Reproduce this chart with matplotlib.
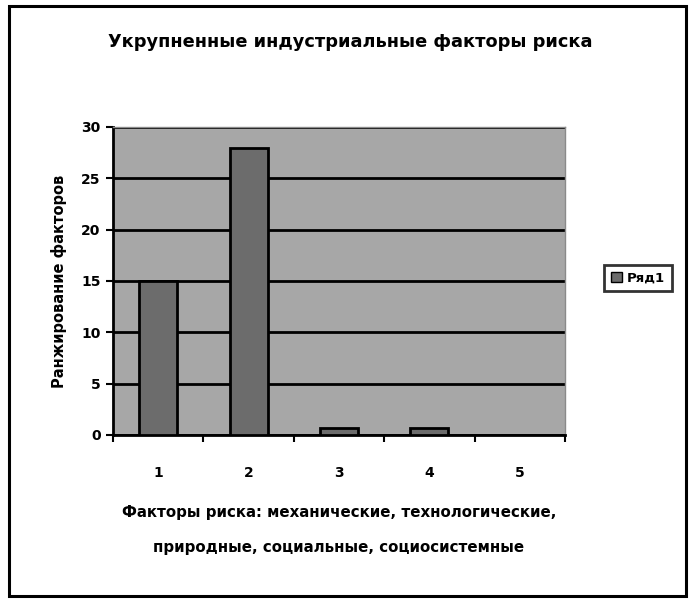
import matplotlib
matplotlib.use("Agg")
import matplotlib.pyplot as plt
from matplotlib.patches import Rectangle, Patch

categories = ["1", "2", "3", "4", "5"]
values = [15, 28, 0.7, 0.7, 0]
yticks = [0, 5, 10, 15, 20, 25, 30]
title = "Укрупненные индустриальные факторы риска"
ylabel = "Ранжирование факторов"
xlabel = "Факторы риска: механические, технологические,\nприродные, социальные, социосистемные"
series_name = "Ряд1"

plt.rcParams['font.family'] = ['DejaVu Sans']
plt.rcParams['font.weight'] = 'bold'

fig = plt.figure(figsize=(6.98, 6.00), dpi=100)
fig.patch.set_facecolor("white")

# outer chart border
fig.add_artist(Rectangle((9/698, 1 - 596/600), (686-9)/698, (596-6)/600,
                         transform=fig.transFigure, fill=False,
                         edgecolor="black", linewidth=2.2))

ax = fig.add_axes([113/698, 165/600, 452/698, 308/600])
ax.set_facecolor("#a7a7a7")
x = list(range(len(categories)))
ax.bar(x, values, width=0.42, color="#6c6c6c", edgecolor="black",
       linewidth=2.0, zorder=3, label=series_name)
ax.set_xlim(-0.5, len(categories) - 0.5)
ax.set_ylim(0, 30)
ax.set_yticks(yticks)
ax.set_yticklabels([str(t) for t in yticks], fontsize=10, fontweight='bold')
ax.set_xticks(x)
ax.set_xticklabels(categories, fontsize=10, fontweight='bold')
ax.set_xticks([i - 0.5 for i in range(len(categories) + 1)], minor=True)
ax.tick_params(axis='x', which='major', length=0, pad=22)
ax.tick_params(axis='x', which='minor', length=5, width=1.5, direction='out')
ax.tick_params(axis='y', length=5, width=1.5, direction='out', pad=4)
ax.yaxis.grid(True, color="black", linewidth=2.0, zorder=1)
ax.set_axisbelow(True)
for s in ["top", "right"]:
    ax.spines[s].set_color("#8a8a8a")
    ax.spines[s].set_linewidth(1.0)
for s in ["left", "bottom"]:
    ax.spines[s].set_color("black")
    ax.spines[s].set_linewidth(2.0)

ax.set_ylabel(ylabel, fontsize=10.5, fontweight='bold', labelpad=10)
ax.set_xlabel(xlabel, fontsize=10.8, fontweight='bold', labelpad=18, linespacing=2.7)
fig.text(350/698, 1 - 42/600, title, ha='center', va='center',
         fontsize=12.8, fontweight='bold')

handle = Patch(facecolor="#6c6c6c", edgecolor="black", linewidth=1.0)
leg = fig.legend([handle], [series_name], loc='center',
                 bbox_to_anchor=(638/698, 1 - 278/600), fontsize=9.5,
                 frameon=True, fancybox=False, handlelength=0.8,
                 handleheight=0.8, handletextpad=0.4, borderpad=0.5)
leg.get_frame().set_edgecolor("black")
leg.get_frame().set_linewidth(2.0)

fig.savefig("out.png", dpi=100, facecolor="white")
